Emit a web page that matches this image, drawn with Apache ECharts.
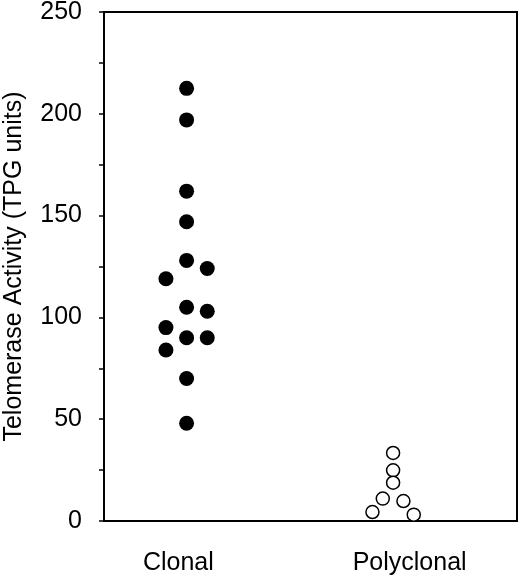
<!DOCTYPE html>
<html>
<head>
<meta charset="utf-8">
<script src="https://cdn.jsdelivr.net/npm/echarts@6/dist/echarts.min.js"></script>
<style>
  html, body { margin: 0; padding: 0; background: #fff; }
  #chart { width: 520px; height: 578px; }
</style>
</head>
<body>
<div id="chart"></div>
<script>
// group labels and where they sit on the hidden x scale (0..10)
const groupNames = ['Clonal', 'Polyclonal'];
const groupLabelPos = [1.8, 7.4];

// Clonal (filled): [x position within column, TPG units]
const clonalX = [2, 2, 2, 2, 2, 2.5, 1.5, 2, 2.5, 1.5, 2, 2.5, 1.5, 2, 2];
const clonalY = [212.5, 197, 162, 147, 128, 124, 119, 105, 103, 95, 90, 90, 84, 70, 48];

// Polyclonal (open)
const polyX = [7, 7, 7, 6.75, 7.25, 6.5, 7.5];
const polyY = [33.4, 24.9, 18.8, 11, 9.8, 4.4, 3.1];

const yTicks = [0, 50, 100, 150, 200, 250];

const chart = echarts.init(document.getElementById('chart'));
const font = 'Liberation Sans, Arial, sans-serif';

const option = {
    backgroundColor: '#fff',
    animation: false,
    grid: {
        left: 104, right: 3, top: 12, bottom: 57,
        outerBoundsMode: 'none',
        containLabel: false,
        show: true,
        borderColor: '#000',
        borderWidth: 2
    },
    xAxis: {
        type: 'value',
        min: 0,
        max: 10,
        interval: 0.2,
        axisLine: { show: true, lineStyle: { color: '#000', width: 2 } },
        axisTick: { show: false },
        splitLine: { show: false },
        axisLabel: {
            margin: 30,
            color: '#000',
            fontFamily: font,
            fontSize: 25,
            showMinLabel: false,
            showMaxLabel: false,
            formatter: function (v) {
                const k = groupLabelPos.findIndex(p => Math.abs(p - v) < 1e-6);
                return k >= 0 ? groupNames[k] : '';
            }
        }
    },
    yAxis: {
        type: 'value',
        min: yTicks[0],
        max: yTicks[yTicks.length - 1],
        interval: 50,
        name: 'Telomerase Activity (TPG units)',
        nameLocation: 'middle',
        nameGap: 77,
        nameTextStyle: { color: '#000', fontFamily: font, fontSize: 25 },
        axisLine: { show: true, lineStyle: { color: '#000', width: 2 } },
        axisTick: { show: true, inside: false, length: 5, lineStyle: { color: '#000', width: 1.5 } },
        minorTick: { show: true, splitNumber: 2, length: 5, lineStyle: { color: '#000', width: 1.5 } },
        splitLine: { show: false },
        axisLabel: {
            margin: 22,
            color: '#000',
            fontFamily: font,
            fontSize: 25
        }
    },
    series: [
        {
            name: 'Clonal',
            type: 'scatter',
            symbol: 'circle',
            symbolSize: 15,
            itemStyle: { color: '#000', opacity: 1 },
            data: clonalX.map((x, i) => [x, clonalY[i]])
        },
        {
            name: 'Polyclonal',
            type: 'scatter',
            symbol: 'circle',
            symbolSize: 13,
            itemStyle: { color: '#fff', borderColor: '#000', borderWidth: 1.5, opacity: 1 },
            data: polyX.map((x, i) => [x, polyY[i]])
        }
    ]
};

chart.setOption(option);
</script>
</body>
</html>
